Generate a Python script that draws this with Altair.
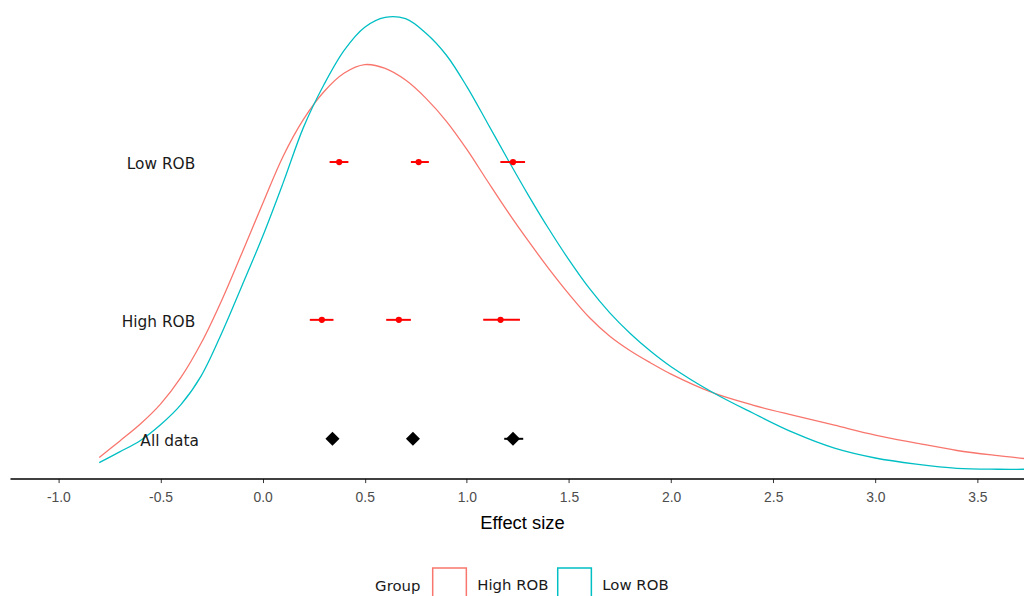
import altair as alt
import pandas as pd

# ---- density curves ----
x_grid = [-0.8, -0.7, -0.6, -0.5, -0.4, -0.3, -0.2, -0.1, 0.0, 0.1, 0.2, 0.3,
          0.4, 0.5, 0.6, 0.7, 0.8, 0.9, 1.0, 1.1, 1.2, 1.3, 1.4, 1.5, 1.6,
          1.7, 1.8, 1.9, 2.0, 2.2, 2.4, 2.6, 2.8, 3.0, 3.2, 3.4, 3.6, 3.75]
high_rob = [0.025, 0.060, 0.096, 0.139, 0.196, 0.270, 0.361, 0.463, 0.567, 0.668,
            0.747, 0.806, 0.846, 0.864, 0.856, 0.831, 0.792, 0.743, 0.683, 0.616,
            0.550, 0.488, 0.429, 0.374, 0.324, 0.284, 0.253, 0.227, 0.203, 0.164,
            0.137, 0.115, 0.094, 0.073, 0.056, 0.040, 0.029, 0.022]
low_rob = [0.014, 0.037, 0.061, 0.095, 0.138, 0.200, 0.291, 0.393, 0.497, 0.611,
           0.730, 0.821, 0.895, 0.944, 0.965, 0.962, 0.931, 0.884, 0.817, 0.740,
           0.662, 0.586, 0.514, 0.447, 0.386, 0.334, 0.290, 0.252, 0.219, 0.165,
           0.120, 0.078, 0.045, 0.024, 0.011, 0.002, 0.000, 0.000]

groups = ["High ROB", "Low ROB"]
group_colors = ["#F8766D", "#00BFC4"]

# ---- summary rows ----
row_names = ["Low ROB", "High ROB", "All data"]
row_y = [0.656, 0.319, 0.065]
row_label_right = [-0.330, -0.330, -0.312]

pt_row = ["Low ROB"] * 3 + ["High ROB"] * 3 + ["All data"] * 3
pt_x = [0.375, 0.764, 1.226, 0.290, 0.667, 1.165, 0.342, 0.736, 1.226]
pt_lo = [0.328, 0.726, 1.164, 0.231, 0.605, 1.080, 0.322, 0.715, 1.183]
pt_hi = [0.420, 0.814, 1.285, 0.347, 0.726, 1.260, 0.360, 0.758, 1.276]

tick_values = [-1.0, -0.5, 0.0, 0.5, 1.0, 1.5, 2.0, 2.5, 3.0, 3.5]

# ---- tables ----
curves = pd.DataFrame({
    "x": x_grid * 2,
    "density": high_rob + low_rob,
    "Group": [groups[0]] * len(x_grid) + [groups[1]] * len(x_grid),
})
ymap = dict(zip(row_names, row_y))
points = pd.DataFrame({"row": pt_row, "x": pt_x, "lo": pt_lo, "hi": pt_hi})
points["y"] = points["row"].map(ymap)
points["kind"] = ["all" if r == "All data" else "sub" for r in pt_row]
labels = pd.DataFrame({"row": row_names, "y": row_y, "lx": row_label_right})

xscale = alt.Scale(domain=[-1.237, 3.728], nice=False, zero=False)
yscale = alt.Scale(domain=[-0.02, 0.98], nice=False, zero=False)

xaxis = alt.Axis(
    values=tick_values,
    labelExpr="(datum.value < 0 ? '-' : '') + format(abs(datum.value), '.1f')",
    grid=False, domainColor="black", domainWidth=1.5,
    tickColor="#333333", tickSize=4, tickWidth=1,
    labelColor="#4D4D4D", labelFont="Liberation Sans", labelFontSize=14,
    labelPadding=8,
    title="Effect size", titleFont="Liberation Sans", titleFontSize=18.5,
    titleFontWeight="normal", titleColor="black", titlePadding=9,
    titleX=516, titleAlign="center",
)

legend = alt.Legend(
    title="Group", orient="none", legendX=368, legendY=561,
    direction="horizontal", titleOrient="left",
    titleFont="DejaVu Sans", titleFontSize=15, titleFontWeight="normal",
    titleColor="#1a1a1a", titlePadding=11,
    labelFont="DejaVu Sans", labelFontSize=15, labelColor="#1a1a1a",
    labelOffset=10, columnPadding=6,
    symbolType="square", symbolSize=1150, symbolStrokeWidth=1.5,
    symbolFillColor="white",
)

curve_layer = alt.Chart(curves).mark_line(
    strokeWidth=1.3, interpolate="catmull-rom", clip=True
).encode(
    x=alt.X("x:Q", scale=xscale, axis=xaxis),
    y=alt.Y("density:Q", scale=yscale, axis=None),
    color=alt.Color("Group:N", scale=alt.Scale(domain=groups, range=group_colors), legend=legend),
)

bars = alt.Chart(points).mark_rule(strokeWidth=2).encode(
    x="lo:Q", x2="hi:Q", y="y:Q",
    color=alt.condition("datum.kind == 'all'", alt.value("black"), alt.value("red")),
)

sub_pts = alt.Chart(points).transform_filter("datum.kind == 'sub'").mark_point(
    shape="circle", filled=True, size=40, color="red", opacity=1
).encode(x="x:Q", y="y:Q")

all_pts = alt.Chart(points).transform_filter("datum.kind == 'all'").mark_point(
    shape="diamond", filled=True, size=200, color="black", opacity=1
).encode(x="x:Q", y="y:Q")

text_layer = alt.Chart(labels).mark_text(
    align="right", baseline="middle", font="DejaVu Sans", fontSize=15.5, color="#1a1a1a", dy=2
).encode(x="lx:Q", y="y:Q", text="row:N")

chart = alt.layer(curve_layer, bars, sub_pts, all_pts, text_layer).properties(
    width=1022, height=472,
    padding={"left": 2, "top": 0, "right": 0, "bottom": 116},
    autosize=alt.AutoSizeParams(type="none"),
).configure_view(stroke=None)

chart.save("out.html", embed_options={"renderer": "svg", "actions": False})
